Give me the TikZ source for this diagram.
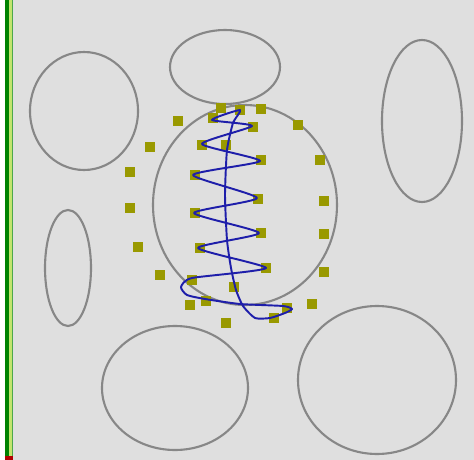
\documentclass[tikz,border=0pt]{standalone}
\usepackage{xcolor}
\usepackage{tikz}
\definecolor{bggray}{RGB}{223,223,223}
\definecolor{rimgray}{RGB}{135,135,135}
\definecolor{ptolive}{RGB}{153,153,0}
\definecolor{curveblue}{RGB}{30,30,170}
\definecolor{bargreen}{RGB}{0,130,0}
\definecolor{barlight}{RGB}{195,228,110}

\tikzset{
  blob/.style={draw=rimgray, line width=1.2pt},
  ctrlpt/.style={fill=ptolive, inner sep=0pt, minimum size=0.2cm},
  bluecurve/.style={draw=curveblue, line width=1.1pt, line join=round}
}

\begin{document}
\begin{tikzpicture}[x=0.02cm, y=-0.02cm]
    \useasboundingbox (0,0) rectangle (474,460);
    \fill[white] (0,0) rectangle (474,460);
    \fill[bggray] (13,0) rectangle (474,460);
    % left frame bar
    \fill[bargreen] (5,0) rectangle (9,460);
    \fill[barlight] (9,0) rectangle (12,460);
    \fill[bargreen!70] (12,0) rectangle (13,460);
    \fill[red!70!black] (5,456) rectangle (13,460);
    % blobs
    \draw[blob] (84,111) ellipse [x radius=54, y radius=59];
    \draw[blob] (225,67) ellipse [x radius=55, y radius=37];
    \draw[blob] (422,121) ellipse [x radius=40, y radius=81];
    \draw[blob] (245,205) ellipse [x radius=92, y radius=100];
    \draw[blob] (68,268) ellipse [x radius=23, y radius=58];
    \draw[blob] (175,388) ellipse [x radius=73, y radius=62];
    \draw[blob] (377,380) ellipse [x radius=79, y radius=74];
    % outer points
    \node[ctrlpt] (o1) at (221,108) {};
    \node[ctrlpt] (o2) at (261,109) {};
    \node[ctrlpt] (o3) at (178,121) {};
    \node[ctrlpt] (o4) at (298,125) {};
    \node[ctrlpt] (o5) at (150,147) {};
    \node[ctrlpt] (o6) at (320,160) {};
    \node[ctrlpt] (o7) at (130,172) {};
    \node[ctrlpt] (o8) at (324,201) {};
    \node[ctrlpt] (o9) at (130,208) {};
    \node[ctrlpt] (o10) at (324,234) {};
    \node[ctrlpt] (o11) at (138,247) {};
    \node[ctrlpt] (o12) at (324,272) {};
    \node[ctrlpt] (o13) at (160,275) {};
    \node[ctrlpt] (o14) at (312,304) {};
    \node[ctrlpt] (o15) at (190,305) {};
    \node[ctrlpt] (o16) at (226,323) {};
    % inner points
    \node[ctrlpt] (i1) at (240,110) {};
    \node[ctrlpt] (i2) at (213,118) {};
    \node[ctrlpt] (i3) at (253,127) {};
    \node[ctrlpt] (i4) at (202,145) {};
    \node[ctrlpt] (i5) at (226,145) {};
    \node[ctrlpt] (i6) at (261,160) {};
    \node[ctrlpt] (i7) at (195,175) {};
    \node[ctrlpt] (i8) at (258,199) {};
    \node[ctrlpt] (i9) at (195,213) {};
    \node[ctrlpt] (i10) at (261,233) {};
    \node[ctrlpt] (i11) at (200,248) {};
    \node[ctrlpt] (i12) at (266,268) {};
    \node[ctrlpt] (i13) at (192,280) {};
    \node[ctrlpt] (i14) at (234,287) {};
    \node[ctrlpt] (i15) at (206,301) {};
    \node[ctrlpt] (i16) at (287,308) {};
    \node[ctrlpt] (i17) at (274,318) {};
    % contour
    \draw[bluecurve] plot[smooth cycle, tension=0.35] coordinates {
        (240,110) (212,120) (252,126) (202,144) (260,161) (193,175)
        (257,198) (194,213) (259,233) (198,248) (266,268) (192,278)
        (181,287) (187,295) (205,299) (240,304) (283,306) (292,309)
        (285,313) (270,318) (255,318) (243,306) (236,290) (231,268)
        (227,240) (225,195) (227,150) (233,123)};
\end{tikzpicture}
\end{document}
